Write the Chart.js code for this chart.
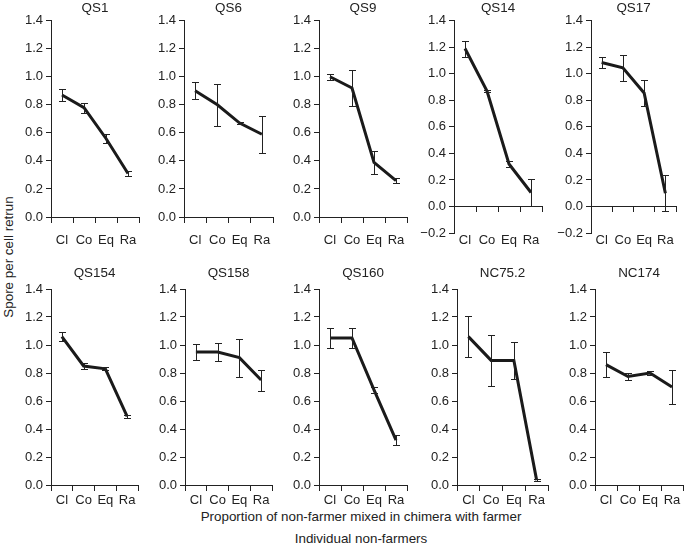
<!DOCTYPE html>
<html>
<head>
<meta charset="utf-8">
<script src="https://cdn.jsdelivr.net/npm/chart.js@4.4.0/dist/chart.umd.min.js"></script>
<style>
  body { margin: 0; background: #fff; }
  #wrap { position: relative; width: 685px; height: 556px; overflow: hidden;
          font-family: 'Liberation Sans', Arial, sans-serif; color: #222; }
  #wrap canvas { position: absolute; }
  .lbl { position: absolute; font-size: 13.4px; white-space: nowrap; transform: translate(-50%, -50%); }
</style>
</head>
<body>
<div id="wrap">
  <div class="lbl" style="left:8px;top:257px;transform:translate(-50%,-50%) rotate(-90deg)">Spore per cell retrun</div>
  <div class="lbl" style="left:361px;top:516px">Proportion of non-farmer mixed in chimera with farmer</div>
  <div class="lbl" style="left:361px;top:538px">Individual non-farmers</div>
</div>
<script>
const categories = ['Cl', 'Co', 'Eq', 'Ra']
const strains = ['QS1', 'QS6', 'QS9', 'QS14', 'QS17', 'QS154', 'QS158', 'QS160', 'NC75.2', 'NC174']

// mean spore per cell return and error (half-length of bar)
const qs1Mean = [0.87, 0.78, 0.56, 0.31]
const qs1Err = [0.045, 0.035, 0.03, 0.02]
const qs6Mean = [0.90, 0.80, 0.67, 0.59]
const qs6Err = [0.06, 0.15, 0.01, 0.13]
const qs9Mean = [1.00, 0.92, 0.39, 0.26]
const qs9Err = [0.02, 0.125, 0.08, 0.02]
const qs14Mean = [1.19, 0.87, 0.32, 0.105]
const qs14Err = [0.06, 0.01, 0.02, 0.10]
const qs17Mean = [1.085, 1.045, 0.855, 0.10]
const qs17Err = [0.04, 0.10, 0.10, 0.135]
const qs154Mean = [1.06, 0.85, 0.83, 0.49]
const qs154Err = [0.035, 0.02, 0.01, 0.01]
const qs158Mean = [0.95, 0.95, 0.91, 0.75]
const qs158Err = [0.055, 0.065, 0.135, 0.075]
const qs160Mean = [1.05, 1.05, 0.68, 0.32]
const qs160Err = [0.07, 0.07, 0.02, 0.035]
const nc752Mean = [1.06, 0.89, 0.89, 0.035]
const nc752Err = [0.145, 0.18, 0.135, 0.005]
const nc174Mean = [0.86, 0.775, 0.80, 0.70]
const nc174Err = [0.09, 0.025, 0.015, 0.12]

const yMinValues = [0, 0, 0, -0.2, -0.2, 0, 0, 0, 0, 0]
const yMaxValue = 1.4

const allMeans = [qs1Mean, qs6Mean, qs9Mean, qs14Mean, qs17Mean, qs154Mean, qs158Mean, qs160Mean, nc752Mean, nc174Mean]
const allErrs = [qs1Err, qs6Err, qs9Err, qs14Err, qs17Err, qs154Err, qs158Err, qs160Err, nc752Err, nc174Err]

// panel layout: y-axis x, axis right end, row
const axisLeft = [51, 184, 319, 454, 591, 51, 185, 319, 457, 595]
const axisRight = [139, 273, 407, 542, 676, 138, 272, 407, 548, 683]
const Y_AXIS_W = 45
const PAD_R = 6
const CANVAS_H = 250
const rows = [
  { top: 0, areaTop: 20.7, titleGap: 12.4, labelCenter: 240 },
  { top: 262, areaTop: 27, titleGap: 15.7, labelCenter: 238 }
]
const rowBottom0 = [217, 223]     // canvas y of value 0 / bottom when min = 0
const rowBottomNeg = 233          // canvas y of bottom when min = -0.2

Chart.defaults.font.family = "'Liberation Sans', Arial, sans-serif"
Chart.defaults.font.size = 13
Chart.defaults.color = '#222'

const panelTitle = {
  id: 'panelTitle',
  afterDraw(chart, args, opts) {
    const { ctx, chartArea } = chart
    ctx.save()
    ctx.font = "13.4px 'Liberation Sans', Arial, sans-serif"
    ctx.fillStyle = '#222'
    ctx.textAlign = 'center'
    ctx.textBaseline = 'middle'
    ctx.fillText(opts.text, (chartArea.left + chartArea.right) / 2, chartArea.top - opts.gap)
    ctx.restore()
  }
}

const errorBars = {
  id: 'errorBars',
  afterDatasetsDraw(chart) {
    const { ctx, scales: { x, y } } = chart
    const ds = chart.data.datasets[0]
    ctx.save()
    ctx.strokeStyle = '#222'
    ctx.lineWidth = 1
    ds.data.forEach((v, i) => {
      const px = Math.round(x.getPixelForValue(i)) + 0.5
      const top = Math.round(y.getPixelForValue(v + ds.errors[i])) + 0.5
      const bot = Math.round(y.getPixelForValue(v - ds.errors[i])) + 0.5
      ctx.beginPath()
      ctx.moveTo(px, top); ctx.lineTo(px, bot)
      ctx.moveTo(px - 3.5, top); ctx.lineTo(px + 3.5, top)
      ctx.moveTo(px - 3.5, bot); ctx.lineTo(px + 3.5, bot)
      ctx.stroke()
    })
    ctx.restore()
  }
}

const wrap = document.getElementById('wrap')

for (let i = 0; i < strains.length; i++) {
  const rowIdx = i < 5 ? 0 : 1
  const row = rows[rowIdx]
  const yMin = yMinValues[i]
  const bottom = yMin < 0 ? rowBottomNeg : rowBottom0[rowIdx]
  const xHeight = CANVAS_H - bottom
  const labelGap = Math.max(row.labelCenter - 7.8 - bottom, 0)
  const width = Y_AXIS_W + (axisRight[i] - axisLeft[i]) + PAD_R

  const canvas = document.createElement('canvas')
  canvas.width = width
  canvas.height = CANVAS_H
  canvas.style.left = (axisLeft[i] - Y_AXIS_W) + 'px'
  canvas.style.top = row.top + 'px'
  wrap.appendChild(canvas)

  new Chart(canvas.getContext('2d'), {
    type: 'line',
    data: {
      labels: categories,
      datasets: [{
        data: allMeans[i],
        errors: allErrs[i],
        borderColor: '#1a1a1a',
        borderWidth: 3,
        pointRadius: 0,
        tension: 0,
        clip: false
      }]
    },
    options: {
      responsive: false,
      animation: false,
      devicePixelRatio: 1,
      layout: { padding: { left: 0, right: PAD_R, top: row.areaTop, bottom: 0 } },
      plugins: {
        legend: { display: false },
        tooltip: { enabled: false },
        title: { display: false },
        panelTitle: { text: strains[i], gap: row.titleGap }
      },
      scales: {
        x: {
          type: 'category',
          offset: true,
          border: { display: false },
          // invisible tick marks only push the labels down
          grid: { display: true, drawOnChartArea: false, drawTicks: labelGap > 0,
                  tickLength: labelGap, color: 'rgba(0,0,0,0)' },
          ticks: { padding: 0, color: '#222', font: { size: 13 }, maxRotation: 0, autoSkip: false },
          afterFit: s => { s.height = xHeight }
        },
        x0: {
          type: 'category',
          position: { y: 0 },
          offset: true,
          border: { display: true, color: '#222', width: 1 },
          grid: { offset: true, drawOnChartArea: false, drawTicks: true, tickLength: 5, color: '#222' },
          ticks: { display: false }
        },
        y: {
          min: yMin,
          max: yMaxValue,
          border: { display: true, color: '#222', width: 1 },
          grid: { drawOnChartArea: false, drawTicks: true, tickLength: 5, color: '#222' },
          ticks: {
            stepSize: 0.2,
            padding: 3,
            color: '#222',
            font: { size: 13 },
            callback: v => (v < -1e-9 ? '\u2212' : '') + Math.abs(v).toFixed(1)
          },
          afterFit: s => { s.width = Y_AXIS_W }
        }
      }
    },
    plugins: [panelTitle, errorBars]
  })
}
</script>
</body>
</html>
